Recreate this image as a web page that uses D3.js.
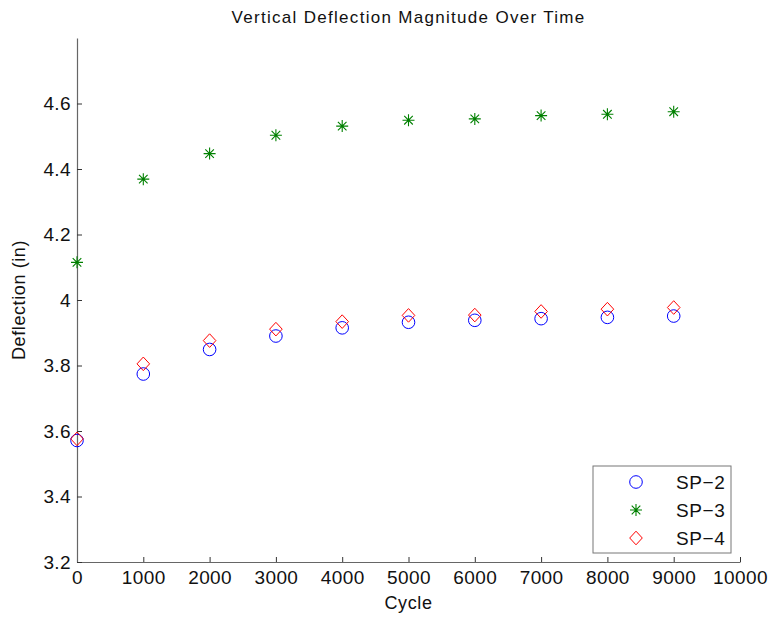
<!DOCTYPE html>
<html>
<head>
<meta charset="utf-8">
<script src="https://cdn.jsdelivr.net/npm/d3@7"></script>
<style>
  body { margin: 0; background: #fff; }
  svg { display: block; font-family: "Liberation Sans", Arial, sans-serif; }
</style>
</head>
<body>
<div id="chart"></div>
<script>
const cycles = [0, 1000, 2000, 3000, 4000, 5000, 6000, 7000, 8000, 9000];
const sp2 = [3.571, 3.774, 3.849, 3.890, 3.915, 3.932, 3.938, 3.943, 3.947, 3.951];
const sp3 = [4.115, 4.369, 4.447, 4.503, 4.531, 4.549, 4.553, 4.563, 4.567, 4.575];
const sp4 = [3.576, 3.805, 3.876, 3.911, 3.934, 3.953, 3.954, 3.965, 3.972, 3.977];
const xTicks = [0, 1000, 2000, 3000, 4000, 5000, 6000, 7000, 8000, 9000, 10000];
const yTicks = [3.2, 3.4, 3.6, 3.8, 4.0, 4.2, 4.4, 4.6];

const series = [
  { name: "SP-2", values: sp2, color: "#0000ff", shape: "circle" },
  { name: "SP-3", values: sp3, color: "#008000", shape: "star" },
  { name: "SP-4", values: sp4, color: "#ff0000", shape: "diamond" },
];

const width = 772;
const height = 619;
const margin = { top: 38, right: 32, bottom: 57, left: 77 };

const svg = d3.select("#chart").append("svg")
  .attr("width", width)
  .attr("height", height);

const x = d3.scaleLinear()
  .domain([0, 10000])
  .range([margin.left, width - margin.right]);

const y = d3.scaleLinear()
  .domain([3.2, 4.8])
  .range([height - margin.bottom, margin.top]);

// axes: ticks point inward like matlab
const xAxis = svg.append("g")
  .attr("transform", `translate(0,${height - margin.bottom})`)
  .call(d3.axisBottom(x).tickValues(xTicks).tickSize(-5).tickSizeOuter(0).tickPadding(9).tickFormat(d3.format("d")));

const yAxis = svg.append("g")
  .attr("transform", `translate(${margin.left},0)`)
  .call(d3.axisLeft(y).tickValues(yTicks).tickSize(-5).tickSizeOuter(0).tickPadding(6)
    .tickFormat((d) => (d === 4 ? "4" : d3.format(".1f")(d))));

[xAxis, yAxis].forEach((g) => {
  g.select(".domain").attr("stroke", "#666").attr("stroke-width", 1.2);
  g.selectAll(".tick line").attr("stroke", "#333");
  g.selectAll(".tick text").attr("font-size", 19).attr("fill", "#111")
    .attr("letter-spacing", "0.4px")
    .attr("font-family", "Liberation Sans, Arial, sans-serif");
});

svg.append("text")
  .attr("x", (margin.left + width - margin.right) / 2)
  .attr("y", 23)
  .attr("text-anchor", "middle")
  .attr("font-size", 17)
  .attr("letter-spacing", "1.3px")
  .attr("fill", "#111")
  .text("Vertical Deflection Magnitude Over Time");

svg.append("text")
  .attr("x", (margin.left + width - margin.right) / 2)
  .attr("y", 609)
  .attr("text-anchor", "middle")
  .attr("font-size", 18)
  .attr("letter-spacing", "0.6px")
  .attr("fill", "#111")
  .text("Cycle");

svg.append("text")
  .attr("transform", `translate(25,${(margin.top + height - margin.bottom) / 2}) rotate(-90)`)
  .attr("text-anchor", "middle")
  .attr("font-size", 18)
  .attr("letter-spacing", "0.6px")
  .attr("fill", "#111")
  .text("Deflection (in)");

function drawMarker(g, shape, color) {
  if (shape === "circle") {
    g.append("circle").attr("r", 6.3).attr("fill", "none").attr("stroke", color).attr("stroke-width", 1);
  } else if (shape === "diamond") {
    g.append("path").attr("d", "M0,-6.8L6.3,0L0,6.8L-6.3,0Z")
      .attr("fill", "none").attr("stroke", color).attr("stroke-width", 1);
  } else {
    g.append("path").attr("d", "M-6,0H6M0,-6V6M-4.3,-4.3L4.3,4.3M-4.3,4.3L4.3,-4.3")
      .attr("fill", "none").attr("stroke", color).attr("stroke-width", 1.1);
  }
}

const plot = svg.append("g");
series.forEach((s) => {
  plot.append("g")
    .selectAll("g")
    .data(cycles.map((c, i) => ({ c, v: s.values[i] })))
    .join("g")
    .attr("transform", (d) => `translate(${x(d.c)},${y(d.v)})`)
    .each(function () {
      drawMarker(d3.select(this), s.shape, s.color);
    });
});

// legend
const legend = svg.append("g").attr("transform", "translate(593,466)");
legend.append("rect")
  .attr("width", 138)
  .attr("height", 87)
  .attr("fill", "#fff")
  .attr("stroke", "#777")
  .attr("stroke-width", 1);

const rows = legend.selectAll(".row")
  .data(series)
  .join("g")
  .attr("class", "row")
  .attr("transform", (d, i) => `translate(0,${16 + i * 28})`);

rows.each(function (d) {
  const m = d3.select(this).append("g").attr("transform", "translate(43,0)");
  drawMarker(m, d.shape, d.color);
});

rows.append("text")
  .attr("x", 83)
  .attr("y", 7)
  .attr("font-size", 19)
  .attr("letter-spacing", "0.6px")
  .attr("fill", "#111")
  .text((d) => d.name.replace("-", "\u2212"));
</script>
</body>
</html>
